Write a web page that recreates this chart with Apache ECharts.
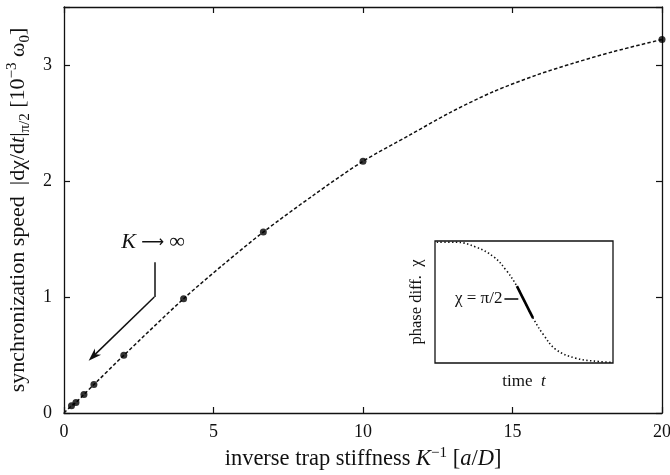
<!DOCTYPE html>
<html>
<head>
<meta charset="utf-8">
<script src="https://cdn.jsdelivr.net/npm/echarts@6/dist/echarts.min.js"></script>
<style>html,body{margin:0;padding:0;background:#fff;}#c{width:670px;height:475px;}</style>
</head>
<body>
<div id="c"></div>
<script>
// ---- data ----
const invStiffness = [0.25, 0.4, 0.667, 1, 2, 4, 6.667, 10, 20];
const syncSpeed    = [0.062, 0.09, 0.16, 0.245, 0.497, 0.985, 1.56, 2.17, 3.22];
// dashed guide curve
const curveX = [0, 0.25, 0.4, 0.667, 1, 2, 4, 5.33, 6.667, 8.33, 10, 11.57, 12.91, 14.36, 15.81, 17.03, 18.37, 20];
const curveY = [0, 0.062, 0.09, 0.16, 0.245, 0.497, 0.985, 1.28, 1.56, 1.875, 2.17, 2.397, 2.59, 2.77, 2.914, 3.015, 3.115, 3.22];
const xTicks = [0, 5, 10, 15, 20];
const yTicks = [0, 1, 2, 3];
// inset (normalized time, normalized phase difference)
const insetTime  = [0.01, 0.12, 0.23, 0.33, 0.40, 0.46, 0.505, 0.55, 0.61, 0.68, 0.79, 0.92, 1.0];
const insetPhase = [0.99, 0.99, 0.95, 0.87, 0.76, 0.63, 0.50, 0.37, 0.23, 0.11, 0.04, 0.012, 0.006];
const segTime  = [0.46, 0.55];
const segPhase = [0.63, 0.37];

const F = 'Liberation Serif, Times New Roman, serif';
const zip = (a, b) => a.map((v, i) => [v, b[i]]);

const chart = echarts.init(document.getElementById('c'), null, {renderer: 'canvas'});
const axisCommon = {
  min: 0,
  axisLine: {show: true, onZero: false, lineStyle: {color: '#111', width: 1.3}},
  axisTick: {show: true, inside: true, length: 6, lineStyle: {color: '#111', width: 1.2}},
  splitLine: {show: false},
};
const tickFmt = (list) => (v) => (list.indexOf(v) >= 0 ? String(v) : '');
const option = {
  animation: false,
  backgroundColor: '#fff',
  textStyle: {fontFamily: F},
  grid: [
    {left: 64, top: 7, right: 8, bottom: 62, outerBoundsMode: 'none', containLabel: false},
    {left: 435, top: 241, width: 178, height: 122, outerBoundsMode: 'none', containLabel: false,
      show: true, borderColor: '#111', borderWidth: 1.3, backgroundColor: 'transparent', z: 5}
  ],
  xAxis: [
    Object.assign({}, axisCommon, {
      type: 'value', gridIndex: 0, position: 'bottom', max: 20, interval: 5,
      axisLabel: {fontFamily: F, fontSize: 18, color: '#111', margin: 10, formatter: tickFmt(xTicks)},
      name: '{n|inverse trap stiffness }{i|K}{sup|−1}{n| [}{i|a}{n|/}{i|D}{n|]}',
      nameLocation: 'middle', nameGap: 32,
      nameTextStyle: {fontFamily: F, color: '#111', fontSize: 22.5,
        rich: {
          n: {fontFamily: F, fontSize: 22.5, color: '#111', lineHeight: 26},
          i: {fontFamily: F, fontSize: 22.5, color: '#111', fontStyle: 'italic', lineHeight: 26},
          sup: {fontFamily: F, fontSize: 15, color: '#111', verticalAlign: 'top', lineHeight: 15}
        }}
    }),
    Object.assign({}, axisCommon, {
      type: 'value', gridIndex: 0, position: 'top', max: 20, interval: 5,
      axisLabel: {show: false}
    }),
    {type: 'value', gridIndex: 1, min: 0, max: 1, show: true,
      axisLine: {show: false}, axisTick: {show: false}, axisLabel: {show: false}, splitLine: {show: false},
      name: '{n|time  }{i|t}', nameLocation: 'middle', nameGap: 10,
      nameTextStyle: {fontFamily: F, fontSize: 17, color: '#111',
        rich: {n: {fontFamily: F, fontSize: 17, color: '#111'}, i: {fontFamily: F, fontSize: 17, color: '#111', fontStyle: 'italic'}}}
    }
  ],
  yAxis: [
    Object.assign({}, axisCommon, {
      type: 'value', gridIndex: 0, position: 'left', max: 3.5, interval: 1,
      axisLabel: {fontFamily: F, fontSize: 18, color: '#111', margin: 12, formatter: tickFmt(yTicks)},
      name: '{n|synchronization speed  |dχ/d}{i|t}{n||}{sub|π/2}{n| [10}{sup|−3}{n| ω}{sub|0}{n|]}',
      nameLocation: 'middle', nameGap: 28, nameRotate: 90,
      nameTextStyle: {fontFamily: F, color: '#111', fontSize: 22,
        rich: {
          n: {fontFamily: F, fontSize: 22, color: '#111', lineHeight: 28},
          i: {fontFamily: F, fontSize: 22, color: '#111', fontStyle: 'italic', lineHeight: 28},
          sup: {fontFamily: F, fontSize: 15, color: '#111', verticalAlign: 'top', lineHeight: 15},
          sub: {fontFamily: F, fontSize: 15, color: '#111', verticalAlign: 'bottom', lineHeight: 15}
        }}
    }),
    Object.assign({}, axisCommon, {
      type: 'value', gridIndex: 0, position: 'right', max: 3.5, interval: 1,
      axisLabel: {show: false}
    }),
    {type: 'value', gridIndex: 1, min: 0, max: 1, show: true,
      axisLine: {show: false}, axisTick: {show: false}, axisLabel: {show: false}, splitLine: {show: false},
      name: '{n|phase diff.  χ}', nameLocation: 'middle', nameGap: 10, nameRotate: 90,
      nameTextStyle: {fontFamily: F, fontSize: 16.5, color: '#111',
        rich: {n: {fontFamily: F, fontSize: 16.5, color: '#111'}}}
    }
  ],
  series: [
    {
      type: 'line', xAxisIndex: 0, yAxisIndex: 0,
      data: zip(curveX, curveY), smooth: 0.3, showSymbol: false, symbol: 'none',
      lineStyle: {color: '#111', width: 1.5, type: [3.5, 2.2]}, z: 2, silent: true
    },
    {
      type: 'scatter', xAxisIndex: 0, yAxisIndex: 0,
      data: zip(invStiffness, syncSpeed), symbol: 'circle', symbolSize: 7,
      itemStyle: {color: '#000'}, z: 3, silent: true,
      markLine: {
        silent: true, symbol: ['none', 'none'],
        lineStyle: {color: '#111', width: 1.5, type: 'solid'},
        label: {show: false},
        data: [
          [{coord: [3.02, 1.3]}, {coord: [3.02, 1.0]}],
          [{coord: [3.02, 1.0]}, {coord: [0.98, 0.49], symbol: 'path://M0,0 L5,12 L0,8.5 L-5,12 Z', symbolSize: [9, 13]}]
        ]
      },
      markPoint: {
        silent: true,
        symbol: 'circle', symbolSize: 1, itemStyle: {color: 'rgba(0,0,0,0)'},
        label: {show: true, position: 'inside', formatter: '{i|K}{a| ⟶ }{n|∞}',
          rich: {
            i: {fontFamily: F, fontSize: 22, fontStyle: 'italic', color: '#111'},
            a: {fontFamily: 'DejaVu Sans', fontSize: 16, color: '#111'},
            n: {fontFamily: F, fontSize: 22, color: '#111'}
          }},
        data: [{coord: [2.98, 1.47]}]
      }
    },
    {
      type: 'line', xAxisIndex: 2, yAxisIndex: 2,
      data: zip(insetTime, insetPhase), smooth: 0.4, showSymbol: false, symbol: 'none',
      lineStyle: {color: '#111', width: 1.6, type: [1.4, 2.4]}, silent: true, z: 6
    },
    {
      type: 'line', xAxisIndex: 2, yAxisIndex: 2,
      data: zip(segTime, segPhase), showSymbol: false, symbol: 'none',
      lineStyle: {color: '#000', width: 2.6}, silent: true, z: 7,
      markLine: {
        silent: true, symbol: ['none', 'none'],
        lineStyle: {color: '#111', width: 1.6, type: 'solid'},
        label: {show: true, position: 'start', distance: 2, formatter: 'χ = π/2',
          fontFamily: F, fontSize: 17, color: '#111'},
        data: [[{coord: [0.39, 0.53]}, {coord: [0.468, 0.53]}]]
      }
    }
  ]
};
chart.setOption(option);
</script>
</body>
</html>
